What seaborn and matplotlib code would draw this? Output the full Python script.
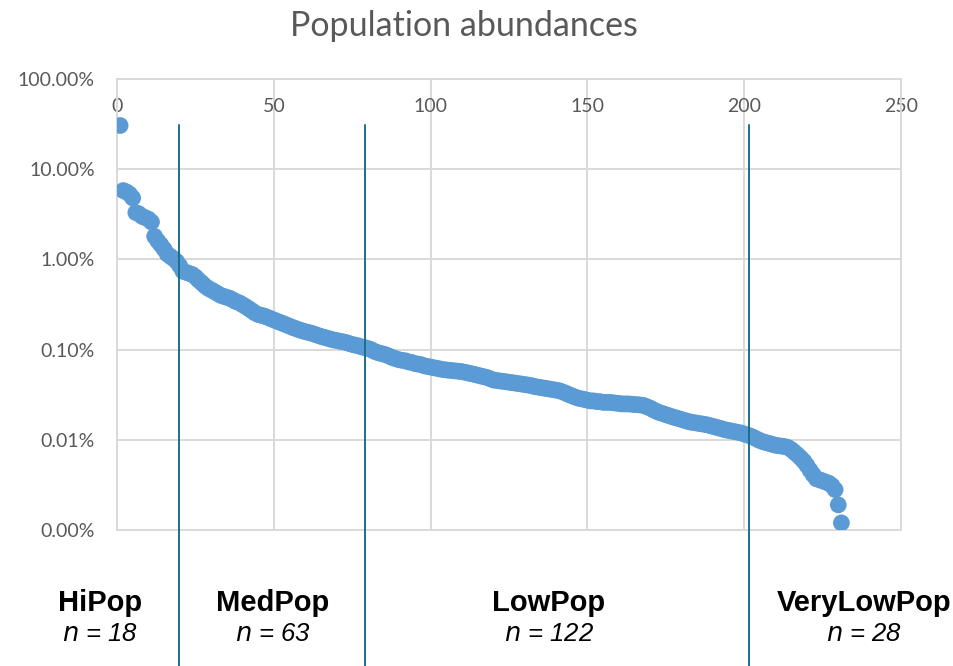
import numpy as np
import pandas as pd
import matplotlib
matplotlib.use("Agg")
import matplotlib.pyplot as plt
from matplotlib.ticker import FuncFormatter, FixedLocator
import seaborn as sns

# abundance (%) per population, ranked
hipop = [30.5, 5.8, 5.6, 5.3, 4.8, 3.3, 3.2, 3.0, 2.9, 2.8, 2.6, 1.8, 1.6, 1.45,
         1.3, 1.15, 1.08, 1.02]
medpop = [0.95, 0.85, 0.74, 0.72, 0.70, 0.68, 0.64, 0.59, 0.55, 0.51, 0.48, 0.46,
          0.44, 0.42, 0.40, 0.39, 0.38, 0.37, 0.355, 0.34, 0.33, 0.315, 0.30, 0.285,
          0.27, 0.255, 0.245, 0.24, 0.235, 0.228, 0.22, 0.213, 0.207, 0.20, 0.194,
          0.188, 0.182, 0.176, 0.171, 0.166, 0.162, 0.158, 0.155, 0.152, 0.148, 0.144,
          0.140, 0.137, 0.134, 0.131, 0.128, 0.126, 0.124, 0.122, 0.120, 0.117, 0.114,
          0.112, 0.110, 0.107, 0.105, 0.103, 0.100]
lowpop = [0.096, 0.093, 0.091, 0.089, 0.087, 0.084, 0.081, 0.079, 0.077, 0.076,
          0.075, 0.073, 0.072, 0.070, 0.069, 0.068, 0.066, 0.065, 0.064, 0.063, 0.062,
          0.061, 0.060, 0.0595, 0.059, 0.0585, 0.058, 0.0575, 0.057, 0.056, 0.055,
          0.054, 0.053, 0.052, 0.051, 0.050, 0.049, 0.0475, 0.046, 0.0455, 0.045,
          0.0445, 0.044, 0.0435, 0.043, 0.0425, 0.042, 0.0415, 0.041, 0.0405, 0.040,
          0.039, 0.0385, 0.038, 0.0375, 0.037, 0.0365, 0.036, 0.0355, 0.035, 0.034,
          0.033, 0.0318, 0.0308, 0.0298, 0.029, 0.0285, 0.028, 0.0275, 0.027, 0.027,
          0.0265, 0.0265, 0.026, 0.026, 0.026, 0.0258, 0.0255, 0.0253, 0.025, 0.025,
          0.025, 0.0248, 0.0246, 0.0245, 0.0243, 0.024, 0.0232, 0.0225, 0.0215, 0.0207,
          0.020, 0.0195, 0.019, 0.0185, 0.018, 0.0176, 0.0172, 0.0168, 0.0164, 0.016,
          0.0157, 0.0155, 0.0153, 0.0151, 0.0149, 0.0147, 0.0144, 0.0141, 0.0138,
          0.0135, 0.0132, 0.0129, 0.0127, 0.0125, 0.0123, 0.0121, 0.0119, 0.0116,
          0.0113, 0.0110, 0.0106]
verylowpop = [0.0102, 0.0098, 0.0095, 0.0093, 0.0091, 0.0089, 0.0087, 0.0086,
              0.0085, 0.0084, 0.0082, 0.0078, 0.0073, 0.0068, 0.0063, 0.0058, 0.0052,
              0.0046, 0.0041, 0.0037, 0.0036, 0.0035, 0.0034, 0.0033, 0.0031, 0.0028,
              0.0019, 0.0012]

group_names = ['HiPop', 'MedPop', 'LowPop', 'VeryLowPop']
group_counts = [18, 63, 122, 28]
cut_lines = [19.8, 79.2, 201.6]
x_ticks = [0, 50, 100, 150, 200, 250]
y_ticks = [0.001, 0.01, 0.1, 1, 10, 100]

values = hipop + medpop + lowpop + verylowpop
df = pd.DataFrame({'rank': np.arange(1, len(values) + 1), 'abundance': values})

sns.set_style('white')
plt.rcParams['font.family'] = ['Lato', 'DejaVu Sans']

fig = plt.figure(figsize=(9.54, 6.66), dpi=100)
ax = fig.add_axes([117 / 954, 1 - 530 / 666, 784 / 954, 451 / 666])

sns.scatterplot(data=df, x='rank', y='abundance', ax=ax, color='#5B9BD5',
                s=145, edgecolor='none', linewidth=0, zorder=3, legend=False)

ax.set_yscale('log')
ax.set_xlim(0, 250)
ax.set_ylim(0.001, 100)
ax.xaxis.set_major_locator(FixedLocator(x_ticks))
ax.yaxis.set_major_locator(FixedLocator(y_ticks))
ax.yaxis.set_minor_locator(FixedLocator([]))
ax.yaxis.set_major_formatter(FuncFormatter(lambda v, p: f'{v:.2f}%'))
ax.grid(True, color='#d9d9d9', linewidth=1.4)
ax.set_axisbelow(True)
for s in ax.spines.values():
    s.set_color('#d9d9d9')
    s.set_linewidth(1.4)
ax.set_xlabel('')
ax.set_ylabel('')
ax.tick_params(axis='x', top=False, bottom=False, labeltop=True, labelbottom=False,
               pad=-26, length=0, labelsize=14, labelcolor='#595959')
ax.tick_params(axis='y', left=False, length=0, pad=16, labelsize=14,
               labelcolor='#595959')

# group boundary lines running below the chart
for xc in cut_lines:
    ax.axvline(xc, ymin=-0.31, ymax=0.898, color='#1a6f8c', linewidth=1.4,
               clip_on=False, zorder=4)

fig.text(464 / 954, 1 - 26 / 666, 'Population abundances', ha='center',
         va='center', fontsize=24.5, color='#595959')

label_x = [100, 273, 549, 864]
for name, n, lx in zip(group_names, group_counts, label_x):
    fig.text(lx / 954, 1 - 603 / 666, name, ha='center', va='center',
             fontsize=21, fontweight='bold', family='Liberation Sans', color='black')
    fig.text(lx / 954, 1 - 634 / 666, f'$n$ = {n}', ha='center', va='center',
             fontsize=18.5, style='italic', family='Liberation Sans', color='black')

fig.savefig('out.png', dpi=100, facecolor='white')
